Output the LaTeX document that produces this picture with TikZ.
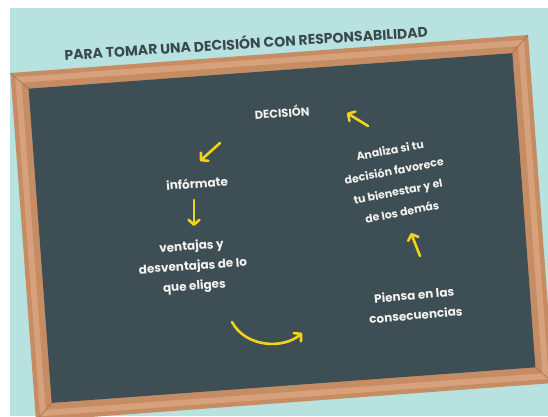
\documentclass[tikz,border=0pt]{standalone}
\usepackage{fontspec}
\setmainfont{Poppins}
\usetikzlibrary{arrows.meta}
\definecolor{fondo}{HTML}{B8E2DF}
\definecolor{madera}{HTML}{C68C64}
\definecolor{maderaclara}{HTML}{D7A27B}
\definecolor{pizarra}{HTML}{3D4E55}
\definecolor{tiza}{HTML}{F2F2EE}
\definecolor{amarillo}{HTML}{F3D21C}
\definecolor{titulo}{HTML}{3A4950}

\begin{document}
\begin{tikzpicture}[x=1pt, y=-1pt, thick,
	paso/.style = {text=tiza, align=center, font=\bfseries\fontsize{12}{20}\selectfont, inner sep=1pt},
	flecha/.style = {amarillo, line width=2.6pt, line cap=round, -{Straight Barb[length=5pt,width=11pt,round]}}]
		\useasboundingbox (0,0) rectangle (548,416);
		\fill[white] (0,0) rectangle (548,416);
		\fill[fondo] (10,8) rectangle (548,416);
		\begin{scope}[shift={(282,228)}, rotate=4.2]
			\fill[madera] (-259.5,-174.5) rectangle (259.5,174.5);
			\fill[maderaclara] (-255,-170) rectangle (255,170);
			\fill[madera] (-249,-164) rectangle (249,164);
			\draw[madera!80!black, line width=0.6pt] (-259.5,-174.5) -- (-242.5,-157.5) (259.5,-174.5) -- (242.5,-157.5) (-259.5,174.5) -- (-242.5,157.5) (259.5,174.5) -- (242.5,157.5);
			\fill[pizarra] (-242.5,-157.5) rectangle (242.5,157.5);
		\end{scope}
		\node[text=titulo, font=\bfseries\fontsize{14}{16}\selectfont, rotate=3.6] (0) at (246,42) {PARA TOMAR UNA DECISIÓN CON RESPONSABILIDAD};
		\node[paso, font=\bfseries\fontsize{11.5}{14}\selectfont, rotate=4.2] (1) at (282,112) {DECISIÓN};
		\node[paso, rotate=4.2] (2) at (197,183) {infórmate};
		\node[paso, rotate=4.2] (3) at (193,267) {ventajas y\\desventajas de lo\\que eliges};
		\node[paso, rotate=5] (4) at (415,305) {Piensa en las\\consecuencias};
		\node[paso, font=\bfseries\fontsize{11}{21}\selectfont, rotate=11] (5) at (396,181) {Analiza si tu\\decisión favorece\\tu bienestar y el\\de los demás};
		
		\coordinate (a1) at (220,143);
		\coordinate (b1) at (200,161);
		\coordinate (a2) at (194,200);
		\coordinate (b2) at (194,226);
		\coordinate (a3) at (232,322);
		\coordinate (b3) at (302,333);
		\coordinate (a4) at (420,256);
		\coordinate (b4) at (411,233);
		\coordinate (a5) at (368,126);
		\coordinate (b5) at (347,113);
		
		\draw[flecha] (a1) -- (b1);
		\draw[flecha] (a2) -- (b2);
		\draw[flecha] (a3) .. controls (246,348) and (284,349) .. (b3);
		\draw[flecha] (a4) -- (b4);
		\draw[flecha] (a5) -- (b5);
	\end{tikzpicture}
\end{document}
